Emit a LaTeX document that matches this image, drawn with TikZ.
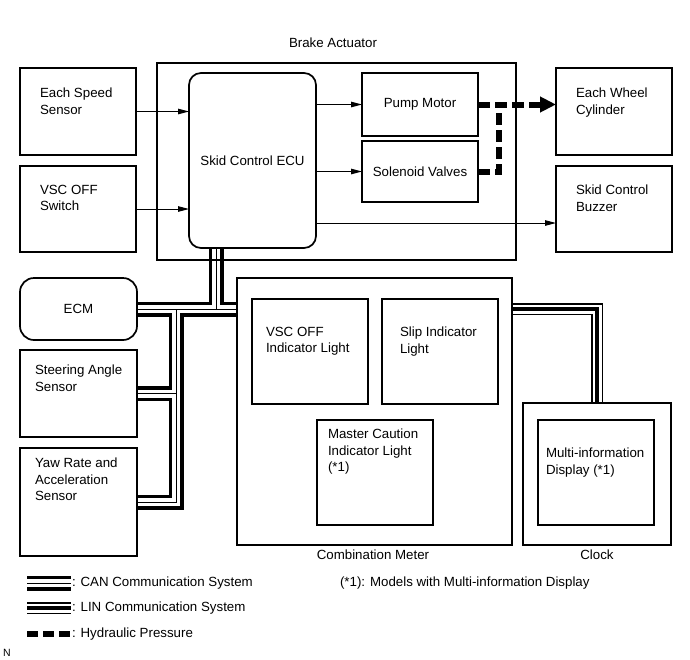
\documentclass[tikz,border=0pt]{standalone}
\usepackage{fontspec}
\setmainfont{Liberation Sans}
\usetikzlibrary{arrows.meta}
\pgfdeclarelayer{background}
\pgfsetlayers{background,main}
\tikzset{
  box/.style={draw, line width=1.7pt, inner sep=0pt, outer sep=0pt},
  rbox/.style={box, rounded corners=12pt},
  ebox/.style={box, rounded corners=14pt},
  txt/.style={inner sep=0pt, outer sep=0pt, align=left, anchor=north west, font=\fontsize{13.3}{16.5}\selectfont},
  ctxt/.style={inner sep=0pt, outer sep=0pt, align=center, font=\fontsize{13.3}{16.5}\selectfont},
  sig/.style={line width=1pt, -{Triangle[length=11pt,width=5.5pt]}},
  hyd/.style={line width=6pt, dash pattern=on 12pt off 5pt},
  canA/.style={line width=15pt, black},
  canB/.style={line width=8pt, white},
  canC/.style={line width=1pt, black},
  linA/.style={line width=12pt, black},
  linB/.style={line width=9pt, white},
  linC/.style={line width=4pt, black},
}
\newcommand{\mkbox}[6][box]{\node[#1, minimum width={#5-#3}, minimum height={#6-#4}] (#2) at ({(#3+#5)/2},{(#4+#6)/2}) {};}
\begin{document}
\begin{tikzpicture}[x=1pt, y=-1pt]
\useasboundingbox (0,0) rectangle (690,659);
% boxes
\mkbox{speed}{20}{68}{136}{155}
\mkbox{vsc}{20}{166}{136}{252}
\mkbox{act}{157}{63}{516}{260}
\mkbox[rbox]{ecu}{189}{73}{316}{248}
\mkbox{pump}{362}{73}{478}{136}
\mkbox{sol}{362}{141}{478}{202}
\mkbox{wheel}{556}{68}{672}{155}
\mkbox{buzzer}{556}{166}{672}{252}
\mkbox[ebox]{ecm}{20}{278}{137}{340}
\mkbox{steer}{20}{350}{137}{437}
\mkbox{yaw}{20}{448}{137}{556}
\mkbox{meter}{237}{278}{512}{545}
\mkbox{vscl}{252}{299}{368}{404}
\mkbox{slip}{382}{299}{498}{404}
\mkbox{mc}{317}{420}{433}{525}
\mkbox{clock}{523}{403}{671}{545}
\mkbox{mid}{538}{420}{654}{525}
% texts
\node[ctxt] (actT) at (333,43) {Brake Actuator};
\node[txt] (speedT) at (40,88) {Each Speed\\Sensor};
\node[txt] (vscT) at (40,185) {VSC OFF\\Switch};
\node[txt] (wheelT) at (576,88) {Each Wheel\\Cylinder};
\node[txt] (buzzT) at (576,185) {Skid Control\\Buzzer};
\node[ctxt] (ecuT) at (ecu) {Skid Control ECU};
\node[ctxt] (pumpT) at (pump) {Pump Motor};
\node[ctxt] (solT) at (sol) {Solenoid Valves};
\node[ctxt] (ecmT) at (ecm) {ECM};
\node[txt] (steerT) at (35,365) {Steering Angle\\Sensor};
\node[txt] (yawT) at (35,458) {Yaw Rate and\\Acceleration\\Sensor};
\node[txt] (vsclT) at (266,327) {VSC OFF\\Indicator Light};
\node[txt] (slipT) at (400,327) {Slip Indicator\\Light};
\node[txt] (mcT) at (328,429) {Master Caution\\Indicator Light\\(*1)};
\node[txt] (midT) at (546,448) {Multi-information\\Display (*1)};
\node[ctxt] (meterT) at (373,555) {Combination Meter};
\node[ctxt] (clockT) at (597,555) {Clock};
% signal arrows
\draw[sig] (speed.east) -- (speed.east -| ecu.west);
\draw[sig] (vsc.east) -- (vsc.east -| ecu.west);
\draw[sig] (pump.west -| ecu.east) -- (pump.west);
\draw[sig] (sol.west -| ecu.east) -- (sol.west);
\draw[sig] ([yshift=-14pt]buzzer.west -| ecu.east) -- ([yshift=-14pt]buzzer.west);
% hydraulic
\coordinate (hj) at (499,104.5);
\draw[hyd, -{Triangle[length=16pt,width=15pt]}] (pump.east) -- (wheel.west |- pump.east);
\draw[hyd] (sol.east) -- (sol.east -| hj) -- (hj);
% buses
\coordinate (j1) at (216,309);
\coordinate (j2) at (176,309);
\coordinate (l1) at (597,309);
\begin{pgfonlayer}{background}
\foreach \s in {canA,canB,canC}{
  \draw[\s] (ecu.south -| j1) -- (j1);
  \draw[\s] (ecm.east) -- (meter.west |- ecm.east);
  \draw[\s] (j2) -- (j2 |- yaw.east) -- (yaw.east);
  \draw[\s] (steer.east) -- (steer.east -| j2);
}
\foreach \s in {linA,linB,linC}{
  \draw[\s] (meter.east |- l1) -- (l1) -- (clock.north);
}
\end{pgfonlayer}
% legend
\coordinate (c1) at (27,583); \coordinate (c2) at (71,583);
\coordinate (n1) at (27,608); \coordinate (n2) at (71,608);
\coordinate (h1) at (27,634); \coordinate (h2) at (70,634);
\foreach \s in {canA,canB,canC}{\draw[\s] (c1) -- (c2);}
\foreach \s in {linA,linB,linC}{\draw[\s] (n1) -- (n2);}
\draw[line width=5.5pt, dash pattern=on 11pt off 5pt] (h1) -- (h2);
\node[txt, anchor=west] (canT) at (72,583) {: CAN Communication System};
\node[txt, anchor=west] (linT) at (72,608) {: LIN Communication System};
\node[txt, anchor=west] (hydT) at (72,634) {: Hydraulic Pressure};
\node[txt, anchor=west] (noteT) at (340,583) {(*1): Models with Multi-information Display};
\node[inner sep=0pt, font=\fontsize{10.5}{12}\selectfont] (nT) at (7,653) {N};
\end{tikzpicture}
\end{document}
